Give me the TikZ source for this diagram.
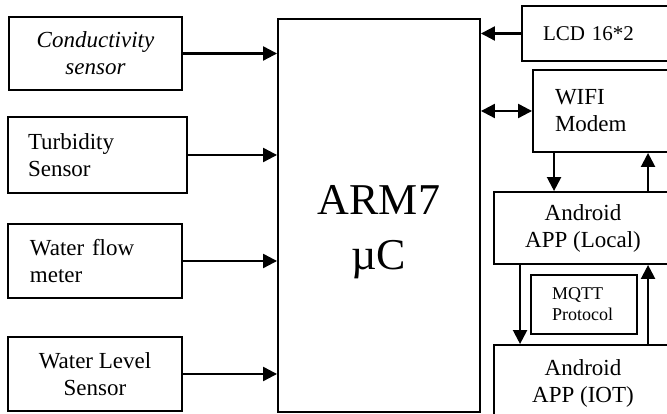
\documentclass[tikz,border=0pt]{standalone}
\usepackage{fontspec}
\setmainfont{Liberation Serif}
\usetikzlibrary{arrows.meta, positioning, calc}

\begin{document}
\begin{tikzpicture}[x=1pt, y=1pt,
    block/.style={rectangle, draw=black, line width=1.9pt, inner sep=0pt,
                  font=\fontsize{23}{27}\selectfont, align=center},
    lblock/.style={block, align=left, inner xsep=#1},
    arrow/.style={-{Triangle[length=14pt, width=14pt]}, line width=2.2pt, black},
    biarrow/.style={{Triangle[length=14pt, width=14pt]}-{Triangle[length=14pt, width=14pt]}, line width=2.2pt, black}
  ]
    \useasboundingbox (0,0) rectangle (667,414);
    \clip (0,0) rectangle (667,414);
    % sensors on the left
    \node[block, font=\fontsize{23}{27}\selectfont\itshape, minimum width=173, minimum height=73] (cond) at (95.5,360.5) {Conductivity\\sensor};
    \node[lblock=20pt, text width=139pt, minimum height=76] (turb) at (97.5,259) {Turbidity\\Sensor};
    \node[lblock=22pt, text width=130pt, minimum height=74] (flow) at (95,153) {Water flow\\meter};
    \node[block, minimum width=174, minimum height=74] (level) at (95,40) {Water Level\\Sensor};
    % controller
    \node[block, minimum width=202, minimum height=393] (arm) at (379,198.5) {};
    \node[font=\fontsize{44}{55}\selectfont, align=center] (armtext) at ([yshift=-17pt]arm.center) {ARM7\\µC};
    % right side
    \node[lblock=21pt, text width=108pt, minimum height=55, font=\fontsize{21}{25}\selectfont] (lcd) at (597,380.5) {LCD 16*2};
    \node[lblock=22pt, text width=95pt, minimum height=82] (wifi) at (602.5,303) {WIFI\\Modem};
    \node[block, minimum width=178, minimum height=72] (local) at (583,186) {Android\\APP (Local)};
    \node[lblock=21pt, text width=64pt, minimum height=59, font=\fontsize{18}{21}\selectfont] (mqtt) at (584,109.5) {MQTT\\Protocol};
    \node[block, minimum width=178, minimum height=77] (iot) at (583,30.5) {Android\\APP (IOT)};
    % connections
    \draw[arrow] (cond.east) -- (cond.east -| arm.west);
    \draw[arrow] (turb.east) -- (turb.east -| arm.west);
    \draw[arrow] (flow.east) -- (flow.east -| arm.west);
    \draw[arrow] (level.east) -- (level.east -| arm.west);
    \draw[arrow] (lcd.west) -- (lcd.west -| arm.east);
    \draw[biarrow] (arm.east |- wifi.west) -- (wifi.west);
    \draw[arrow] ([xshift=22pt]wifi.south west) -- ([xshift=22pt]wifi.south west |- local.north);
    \draw[arrow] ([xshift=155pt]local.north west) -- ([xshift=155pt]local.north west |- wifi.south);
    \draw[arrow] ([xshift=27pt]local.south west) -- ([xshift=27pt]local.south west |- iot.north);
    \draw[arrow] ([xshift=155pt]iot.north west) -- ([xshift=155pt]iot.north west |- local.south);
  \end{tikzpicture}
\end{document}
